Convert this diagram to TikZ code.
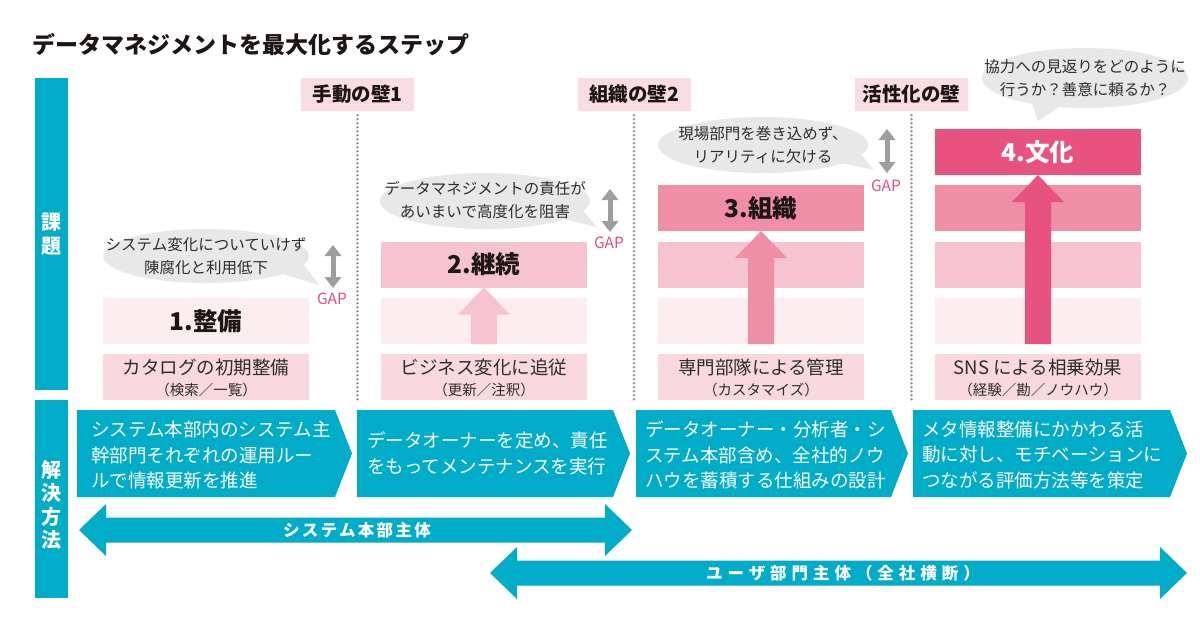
\documentclass[tikz,border=0pt]{standalone}
\usepackage{fontspec}
\setmainfont{Noto Sans CJK JP}
\newfontfamily\spacedfont{Noto Sans CJK JP}[LetterSpace=14]
\newfontfamily\widefont{Noto Sans CJK JP}[LetterSpace=30]
\usetikzlibrary{arrows.meta}
\definecolor{cTeal}{RGB}{0,172,200}
\definecolor{cPinkS}{RGB}{231,82,128}
\definecolor{cPinkM}{RGB}{238,143,166}
\definecolor{cPinkL}{RGB}{246,196,208}
\definecolor{cPinkV}{RGB}{252,237,241}
\definecolor{cLab}{RGB}{249,216,224}
\definecolor{cWall}{RGB}{250,221,228}
\definecolor{cBub}{RGB}{232,232,232}
\definecolor{cGapArr}{RGB}{158,158,158}
\definecolor{cDot}{RGB}{150,150,150}
\definecolor{cGap}{RGB}{226,78,124}
\definecolor{cTxt}{RGB}{45,45,45}
\definecolor{cDark}{RGB}{30,22,20}
\begin{document}
\begin{tikzpicture}[x=1pt,y=-1pt,
  band/.style={minimum width=206pt,minimum height=46pt,inner sep=0pt,outer sep=0pt},
  steptitle/.style={band,font=\fontsize{24.5}{26}\selectfont\bfseries,text=cDark},
  labbox/.style={band,fill=cLab},
  labmain/.style={inner sep=0pt,text=cTxt,font=\fontsize{18.5}{20}\selectfont},
  labsub/.style={inner sep=0pt,text=cTxt,font=\fontsize{14.5}{16}\selectfont},
  wall/.style={fill=cWall,minimum width=113pt,minimum height=33pt,inner sep=0pt,font=\fontsize{19.5}{21}\selectfont\bfseries,text=cDark},
  dotline/.style={cDot,line width=2.8pt,line cap=round,dash pattern=on 0pt off 4pt},
  bubtext/.style={font=\fontsize{15.5}{23.5}\selectfont,text=cTxt,align=center,inner sep=0pt},
  gaparrow/.style={cGapArr,line width=5pt,{Triangle[width=17pt,length=11pt,line width=0pt]}-{Triangle[width=17pt,length=11pt,line width=0pt]}},
  gaptext/.style={font=\fontsize{15.5}{17}\selectfont,text=cGap,inner sep=0pt},
  chevtext/.style={anchor=west,align=left,text=white,font=\fontsize{18.5}{25.5}\selectfont,inner sep=0pt},
  sidebar/.style={fill=cTeal,minimum width=33pt,inner sep=0pt,anchor=north west},
  sidetext/.style={text=white,font=\fontsize{20}{23.5}\selectfont\bfseries,align=center,inner sep=0pt},
  arrtext/.style={text=white,font=\spacedfont\bfseries\fontsize{16.5}{18}\selectfont,inner sep=0pt},
  arrtextwide/.style={text=white,font=\widefont\bfseries\fontsize{16.5}{18}\selectfont,inner sep=0pt}
]
\useasboundingbox (0,0) rectangle (1200,630);
\fill[white] (0,0) rectangle (1200,630);

% title
\node[anchor=west,inner sep=0pt,font=\fontsize{23}{25}\selectfont\bfseries,text=cDark] (title) at (32,45) {データマネジメントを最大化するステップ};

% side bars
\node[sidebar,minimum height=312pt] (barA) at (35,78) {};
\node[sidetext] (barAtxt) at (barA.center) {課\\題};
\node[sidebar,minimum height=198pt] (barB) at (35,400) {};
\node[sidetext] (barBtxt) at (51.5,505) {解\\決\\方\\法};

% walls and dotted separators
\node[wall] (w1) at (357.5,94.5) {手動の壁1};
\node[wall] (w2) at (634,94.5) {組織の壁2};
\node[wall] (w3) at (911.5,94.5) {活性化の壁};
\coordinate (d1) at (357.5,400);
\coordinate (d2) at (634,400);
\coordinate (d3) at (911.5,400);
\draw[dotline] ([yshift=-4pt]w1.south) -- (d1);
\draw[dotline] ([yshift=-4pt]w2.south) -- (d2);
\draw[dotline] ([yshift=-4pt]w3.south) -- (d3);

% ---------- column 1 ----------
\node[steptitle,fill=cPinkV] (s1) at (206,321) {1.整備};
\node[labbox] (l1) at (206,377) {};
\node[labmain] (l1a) at (206,367) {カタログの初期整備};
\node[labsub] (l1b) at (206,390) {（検索／一覧）};
\fill[cBub] (206,256) ellipse [x radius=103, y radius=27];
\fill[cBub] (280,273) -- (319,285) -- (302,262) -- cycle;
\node[bubtext] (q1) at (206,256) {システム変化についていけず\\陳腐化と利用低下};
\coordinate (g1t) at (333,245);
\coordinate (g1b) at (333,288);
\draw[gaparrow] (g1t) -- (g1b);
\node[gaptext] (gap1) at (332,299) {GAP};

% ---------- column 2 ----------
\node[steptitle,fill=cPinkL] (s2) at (484,264.5) {2.継続};
\node[band,fill=cPinkV] (b21) at (484,321) {};
\node[labbox] (l2) at (484,377) {};
\node[labmain] (l2a) at (484,367) {ビジネス変化に追従};
\node[labsub] (l2b) at (484,390) {（更新／注釈）};
\fill[cPinkL] (471,344) -- (471,314.5) -- (458,314.5) -- (484,287.5) -- (510,314.5) -- (497,314.5) -- (497,344) -- cycle;
\fill[cBub] (485,201) ellipse [x radius=105, y radius=28];
\fill[cBub] (559,218) -- (597,227) -- (580,207) -- cycle;
\node[bubtext] (q2) at (485,200) {データマネジメントの責任が\\あいまいで高度化を阻害};
\coordinate (g2t) at (610,189);
\coordinate (g2b) at (610,232);
\draw[gaparrow] (g2t) -- (g2b);
\node[gaptext] (gap2) at (609,243) {GAP};

% ---------- column 3 ----------
\node[steptitle,fill=cPinkM] (s3) at (761,208) {3.組織};
\node[band,fill=cPinkL] (b32) at (761,264.5) {};
\node[band,fill=cPinkV] (b31) at (761,321) {};
\node[labbox] (l3) at (761,377) {};
\node[labmain] (l3a) at (761,367) {専門部隊による管理};
\node[labsub] (l3b) at (761,390) {（カスタマイズ）};
\fill[cPinkM] (748,344) -- (748,258) -- (735,258) -- (761,231) -- (787,258) -- (774,258) -- (774,344) -- cycle;
\fill[cBub] (763,145) ellipse [x radius=105, y radius=28];
\fill[cBub] (837,162) -- (874,170) -- (858,151) -- cycle;
\node[bubtext] (q3) at (763,145) {現場部門を巻き込めず、\\リアリティに欠ける};
\coordinate (g3t) at (887,129);
\coordinate (g3b) at (887,173);
\draw[gaparrow] (g3t) -- (g3b);
\node[gaptext] (gap3) at (886,186) {GAP};

% ---------- column 4 ----------
\node[steptitle,fill=cPinkS,text=white] (s4) at (1038,152) {4.文化};
\node[band,fill=cPinkM] (b43) at (1038,208) {};
\node[band,fill=cPinkL] (b42) at (1038,264.5) {};
\node[band,fill=cPinkV] (b41) at (1038,321) {};
\node[labbox] (l4) at (1038,377) {};
\node[labmain] (l4a) at (1038,367) {SNS による相乗効果};
\node[labsub] (l4b) at (1038,390) {（経験／勘／ノウハウ）};
\fill[cPinkS] (1025,344) -- (1025,202) -- (1012,202) -- (1038,175) -- (1064,202) -- (1051,202) -- (1051,344) -- cycle;
\fill[cBub] (1085,78) ellipse [x radius=103, y radius=30];
\fill[cBub] (1032,103) -- (1038,121) -- (1062,105) -- cycle;
\node[bubtext] (q4) at (1085,78) {協力への見返りをどのように\\行うか？善意に頼るか？};

% ---------- solution chevrons ----------
\fill[cTeal] (77,410) -- (335,410) -- (352,453.5) -- (335,497) -- (77,497) -- cycle;
\node[chevtext] (c1) at (91,455) {システム本部内のシステム主\\幹部門それぞれの運用ルー\\ルで情報更新を推進};
\fill[cTeal] (357,410) -- (613,410) -- (630,453.5) -- (613,497) -- (357,497) -- cycle;
\node[chevtext] (c2) at (367,453.5) {データオーナーを定め、責任\\をもってメンテナンスを実行};
\fill[cTeal] (636,410) -- (891,410) -- (908,453.5) -- (891,497) -- (636,497) -- cycle;
\node[chevtext] (c3) at (645,455) {データオーナー・分析者・シ\\ステム本部含め、全社的ノウ\\ハウを蓄積する仕組みの設計};
\fill[cTeal] (913,410) -- (1170,410) -- (1187,453.5) -- (1170,497) -- (913,497) -- cycle;
\node[chevtext] (c4) at (922,455) {メタ情報整備にかかわる活\\動に対し、モチベーションに\\つながる評価方法等を策定};

% ---------- bottom double arrows ----------
\fill[cTeal] (79,530) -- (106,504) -- (106,517.5) -- (605,517.5) -- (605,504) -- (632,530) -- (605,556) -- (605,542.5) -- (106,542.5) -- (106,556) -- cycle;
\node[arrtext] (a1) at (357,530) {システム本部主体};
\fill[cTeal] (490,573) -- (517,547) -- (517,560.5) -- (1160,560.5) -- (1160,547) -- (1187,573) -- (1160,599) -- (1160,585.5) -- (517,585.5) -- (517,599) -- cycle;
\node[arrtextwide] (a2) at (843,573) {ユーザ部門主体（全社横断）};
\end{tikzpicture}
\end{document}
